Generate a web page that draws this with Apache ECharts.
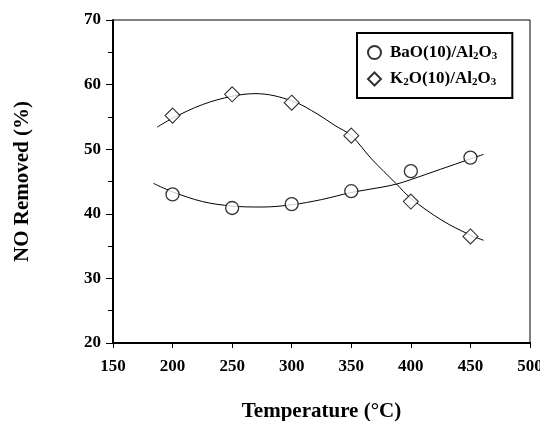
<!DOCTYPE html>
<html>
<head>
<meta charset="utf-8">
<script src="https://cdn.jsdelivr.net/npm/echarts@6/dist/echarts.min.js"></script>
<style>html,body{margin:0;padding:0;background:#fff}#c{width:540px;height:421px}</style>
</head>
<body>
<div id="c"></div>
<script>
// measured points
var temps = [200, 250, 300, 350, 400, 450];
var baoValues = [43.0, 40.9, 41.5, 43.5, 46.6, 48.7];
var k2oValues = [55.2, 58.5, 57.2, 52.1, 41.9, 36.5];
// fitted curves
var baoFitX = [184, 200, 225, 250, 275, 300, 325, 350, 375, 388, 400, 425, 450, 461];
var baoFitY = [44.7, 43.4, 41.9, 41.2, 41.05, 41.4, 42.2, 43.3, 44.1, 44.6, 45.3, 46.9, 48.5, 49.2];
var k2oFitX = [187, 200, 225, 250, 270, 300, 322, 336, 350, 367, 388, 400, 426, 450, 461];
var k2oFitY = [53.4, 54.8, 56.9, 58.2, 58.6, 57.5, 55.4, 53.7, 52.1, 48.5, 44.6, 42.4, 39.0, 36.7, 35.9];
var xTicks = [150, 200, 250, 300, 350, 400, 450, 500];
var yTicks = [20, 30, 40, 50, 60, 70];

function pairs(xs, ys) { return xs.map(function (x, i) { return [x, ys[i]]; }); }

var FONT = '"Liberation Serif", "Times New Roman", serif';
var legendRich = {
  g: { width: 4 },
  a: { fontFamily: FONT, fontWeight: 'bold', fontSize: 17, color: '#000', lineHeight: 18, verticalAlign: 'middle' },
  s: { fontFamily: FONT, fontWeight: 'bold', fontSize: 11, color: '#000', lineHeight: 11, verticalAlign: 'bottom' }
};
var legendLabels = {
  'BaO(10)/Al2O3': '{g|}{a|BaO(10)/Al}{s|2}{a|O}{s|3}',
  'K2O(10)/Al2O3': '{g|}{a|K}{s|2}{a|O(10)/Al}{s|2}{a|O}{s|3}'
};

var chart = echarts.init(document.getElementById('c'), null, { renderer: 'canvas' });
chart.setOption({
  backgroundColor: '#fff',
  animation: false,
  grid: { left: 113, right: 10, top: 20, bottom: 78, show: true, borderColor: '#000', borderWidth: 1,
          containLabel: false, outerBoundsMode: 'none' },
  legend: {
    left: 357, top: 33,
    orient: 'vertical',
    data: ['BaO(10)/Al2O3', 'K2O(10)/Al2O3'],
    borderColor: '#000', borderWidth: 2,
    padding: [11, 15, 10, 10],
    itemGap: 9,
    itemWidth: 13, itemHeight: 13,
    formatter: function (n) { return legendLabels[n]; },
    textStyle: { rich: legendRich }
  },
  xAxis: {
    type: 'value', min: xTicks[0], max: xTicks[xTicks.length - 1], interval: 50,
    name: 'Temperature (°C)', nameLocation: 'middle', nameGap: 58,
    nameTextStyle: { fontFamily: FONT, fontWeight: 'bold', fontSize: 21, color: '#000' },
    axisLine: { lineStyle: { color: '#000', width: 2 } },
    axisTick: { inside: false, length: 5, lineStyle: { color: '#000', width: 1 } },
    axisLabel: { margin: 15, fontFamily: FONT, fontWeight: 'bold', fontSize: 17, color: '#000' },
    splitLine: { show: false }
  },
  yAxis: {
    type: 'value', min: yTicks[0], max: yTicks[yTicks.length - 1], interval: 10,
    name: 'NO Removed (%)', nameLocation: 'middle', nameGap: 80, nameRotate: 90,
    nameTextStyle: { fontFamily: FONT, fontWeight: 'bold', fontSize: 21, color: '#000' },
    axisLine: { lineStyle: { color: '#000', width: 2 } },
    axisTick: { inside: false, length: 7, lineStyle: { color: '#000', width: 1 } },
    minorTick: { show: true, splitNumber: 2, length: 5, lineStyle: { color: '#000', width: 1 } },
    axisLabel: { margin: 12, fontFamily: FONT, fontWeight: 'bold', fontSize: 17, color: '#000' },
    splitLine: { show: false }
  },
  series: [
    { name: 'BaO fit', type: 'line', data: pairs(baoFitX, baoFitY), smooth: 0.35, showSymbol: false,
      lineStyle: { color: '#000', width: 1 }, silent: true, z: 1 },
    { name: 'K2O fit', type: 'line', data: pairs(k2oFitX, k2oFitY), smooth: 0.35, showSymbol: false,
      lineStyle: { color: '#000', width: 1 }, silent: true, z: 1 },
    { name: 'BaO(10)/Al2O3', type: 'scatter', data: pairs(temps, baoValues), symbol: 'circle', symbolSize: 13,
      itemStyle: { color: '#fff', borderColor: '#000', borderWidth: 1.3 }, z: 3 },
    { name: 'K2O(10)/Al2O3', type: 'scatter', data: pairs(temps, k2oValues), symbol: 'diamond', symbolSize: 15,
      itemStyle: { color: '#fff', borderColor: '#000', borderWidth: 1.1 }, z: 3 }
  ]
});
</script>
</body>
</html>
